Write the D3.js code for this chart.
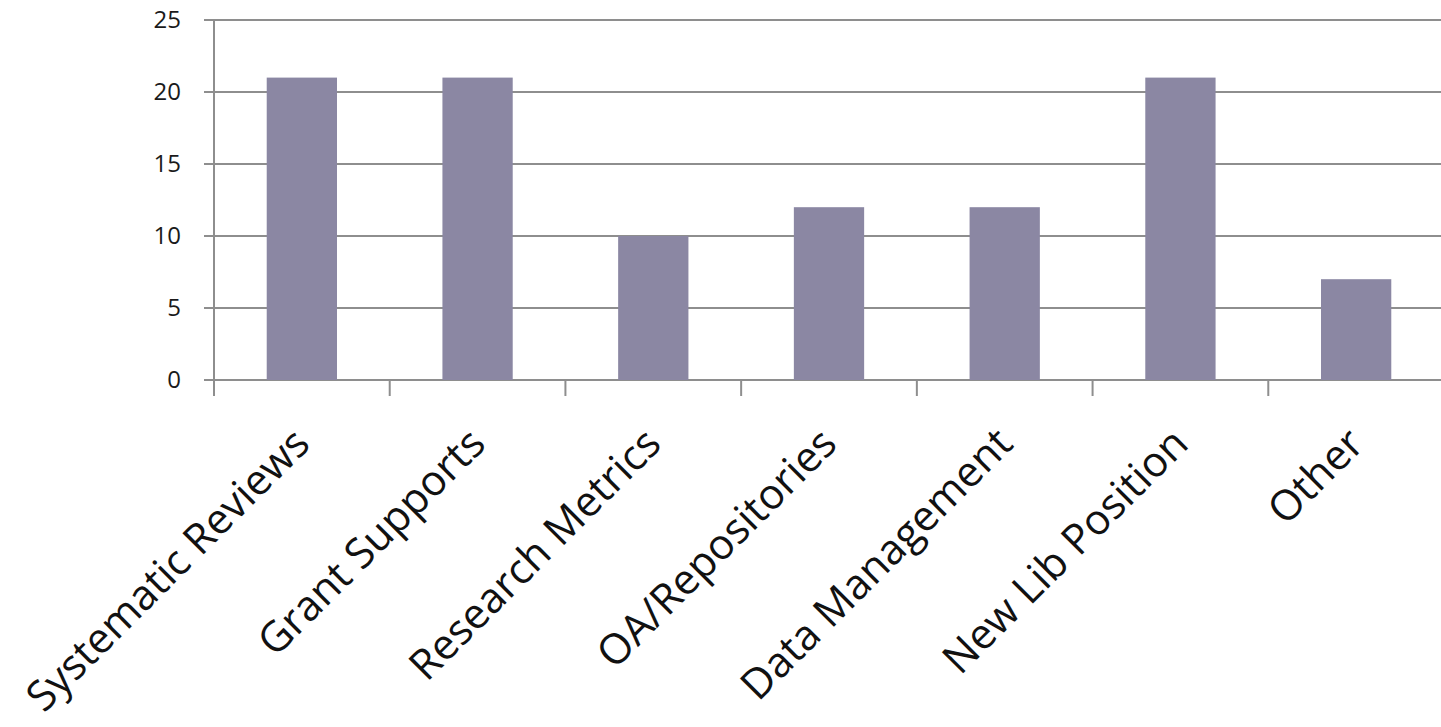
<!DOCTYPE html>
<html>
<head>
<meta charset="utf-8">
<script src="https://cdn.jsdelivr.net/npm/d3@7"></script>
<style>
  body { margin: 0; background: #fff; }
  svg { display: block; }
</style>
</head>
<body>
<svg id="chart" width="1441" height="727"></svg>
<script>
var categories = ["Systematic Reviews", "Grant Supports", "Research Metrics", "OA/Repositories", "Data Management", "New Lib Position", "Other"];
var values = [21, 21, 10, 12, 12, 21, 7];
var yTicks = [0, 5, 10, 15, 20, 25];

var svg = d3.select("#chart");
var plotLeft = 214, plotRight = 1444, plotTop = 20, plotBottom = 380;

var x = d3.scaleBand()
    .domain(categories)
    .range([plotLeft, plotRight])
    .paddingInner(0.6)
    .paddingOuter(0.3);

var y = d3.scaleLinear()
    .domain([0, 25])
    .range([plotBottom, plotTop]);

// gridlines
svg.append("g")
    .selectAll("line")
    .data(yTicks)
    .join("line")
    .attr("x1", plotLeft - 10)
    .attr("x2", 1441)
    .attr("y1", d => y(d))
    .attr("y2", d => y(d))
    .attr("stroke", "#8e8e8e")
    .attr("stroke-width", 2);

// y labels
svg.append("g")
    .selectAll("text")
    .data(yTicks)
    .join("text")
    .attr("x", 181)
    .attr("y", d => y(d))
    .attr("dy", "0.35em")
    .attr("text-anchor", "end")
    .attr("font-family", "Open Sans, sans-serif")
    .attr("font-size", 24)
    .attr("fill", "#1a1a1a")
    .text(d => d);

// bars
svg.append("g")
    .selectAll("rect")
    .data(values)
    .join("rect")
    .attr("x", (d, i) => x(categories[i]))
    .attr("y", d => y(d))
    .attr("width", x.bandwidth())
    .attr("height", d => y(0) - y(d))
    .attr("fill", "#8b87a3");

// y axis line
svg.append("line")
    .attr("x1", plotLeft).attr("x2", plotLeft)
    .attr("y1", plotTop).attr("y2", plotBottom + 16)
    .attr("stroke", "#8e8e8e")
    .attr("stroke-width", 2);

// category tick marks
var step = x.step();
svg.append("g")
    .selectAll("line")
    .data(d3.range(1, categories.length + 1))
    .join("line")
    .attr("x1", i => plotLeft + i * step)
    .attr("x2", i => plotLeft + i * step)
    .attr("y1", plotBottom)
    .attr("y2", plotBottom + 16)
    .attr("stroke", "#8e8e8e")
    .attr("stroke-width", 2);

// category labels
svg.append("g")
    .selectAll("text")
    .data(categories)
    .join("text")
    .attr("transform", d => `translate(${x(d) + x.bandwidth() / 2 + 10}, 446) rotate(-45)`)
    .attr("text-anchor", "end")
    .attr("font-family", "Open Sans, sans-serif")
    .attr("font-size", 42)
    .attr("fill", "#111")
    .text(d => d);
</script>
</body>
</html>
